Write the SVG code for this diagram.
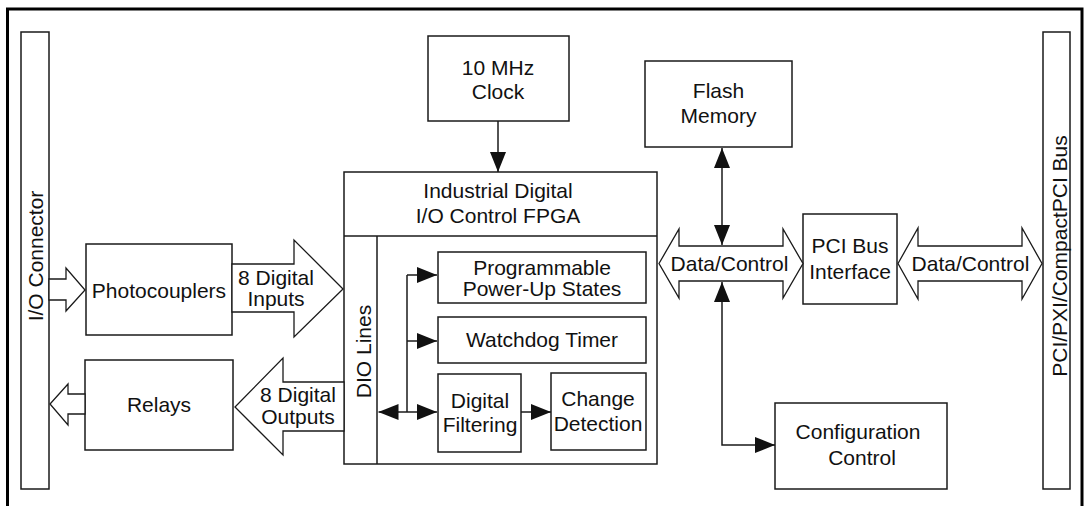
<svg xmlns="http://www.w3.org/2000/svg" width="1086" height="506" viewBox="0 0 1086 506">
<style>
text{font-family:"Liberation Sans",Arial,sans-serif;font-size:21px;fill:#111;text-anchor:middle}
.box{fill:#fff;stroke:#1a1a1a;stroke-width:1.5}
.hol{fill:#fff;stroke:#1a1a1a;stroke-width:1.3;stroke-linejoin:miter}
.ln{fill:none;stroke:#1a1a1a;stroke-width:1.5}
.ar{fill:none;stroke:#1a1a1a;stroke-width:1.5;marker-end:url(#ah)}
.ar2{fill:none;stroke:#1a1a1a;stroke-width:1.5;marker-start:url(#ah);marker-end:url(#ah)}
</style>
<defs>
<marker id="ah" markerUnits="userSpaceOnUse" markerWidth="20" markerHeight="16" viewBox="0 0 20 16" refX="20" refY="8" orient="auto-start-reverse">
<path d="M0,0 L20,8 L0,16 z" fill="#111"/>
</marker>
</defs>
<rect width="1086" height="506" fill="#fff"/>
<rect x="7.5" y="9" width="1074.5" height="510" fill="none" stroke="#000" stroke-width="3"/>

<g id="io-connector">
<rect class="box" x="21" y="32" width="28" height="457"/>
<text transform="translate(42.5,256) rotate(-90)">I/O Connector</text>
</g>
<g id="pci-bus">
<rect class="box" x="1043" y="32" width="27" height="457"/>
<text transform="translate(1066.5,256) rotate(-90)">PCI/PXI/CompactPCI Bus</text>
</g>
<g id="photocouplers">
<rect class="box" x="86" y="244" width="146" height="91"/>
<text x="159" y="298">Photocouplers</text>
</g>
<g id="relays">
<rect class="box" x="85" y="360" width="148" height="90"/>
<text x="159" y="412">Relays</text>
</g>
<g id="clock">
<rect class="box" x="428" y="36" width="141" height="85"/>
<text x="498" y="75">10 MHz</text>
<text x="498" y="99">Clock</text>
</g>
<g id="fpga">
<rect class="box" x="344" y="172" width="313" height="292"/>
<line class="ln" x1="344" y1="236" x2="657" y2="236"/>
<text x="498" y="198">Industrial Digital</text>
<text x="498" y="223">I/O Control FPGA</text>
</g>
<g id="dio-lines">
<line class="ln" x1="377" y1="236" x2="377" y2="464"/>
<text transform="translate(370.5,351.5) rotate(-90)">DIO Lines</text>
</g>
<g id="power-up">
<rect class="box" x="438" y="252" width="208" height="51"/>
<text x="542" y="275">Programmable</text>
<text x="542" y="296">Power-Up States</text>
</g>
<g id="watchdog">
<rect class="box" x="438" y="317" width="208" height="46"/>
<text x="542" y="347">Watchdog Timer</text>
</g>
<g id="filtering">
<rect class="box" x="438" y="374" width="83" height="78"/>
<text x="480" y="408">Digital</text>
<text x="480" y="432">Filtering</text>
</g>
<g id="change">
<rect class="box" x="551" y="373" width="95" height="77"/>
<text x="598" y="406">Change</text>
<text x="598" y="431">Detection</text>
</g>
<g id="flash">
<rect class="box" x="645" y="61" width="147" height="86"/>
<text x="718.5" y="98">Flash</text>
<text x="718.5" y="123">Memory</text>
</g>
<g id="pci-interface">
<rect class="box" x="803" y="214" width="94" height="90"/>
<text x="850" y="253">PCI Bus</text>
<text x="850" y="279">Interface</text>
</g>
<g id="config">
<rect class="box" x="775" y="403" width="172" height="86"/>
<text x="858" y="439">Configuration</text>
<text x="862" y="465">Control</text>
</g>

<g id="connectors">
<polygon class="hol" points="49,279 66,279 66,268 85,290 66,311 66,300 49,300"/>
<polygon class="hol" points="232,264 294,264 294,240 343,289 294,337 294,312 232,312"/>
<text x="276" y="285">8 Digital</text>
<text x="276" y="306">Inputs</text>
<polygon class="hol" points="85,394 68,394 68,384 50,404 68,425 68,414 85,414"/>
<polygon class="hol" points="344,382 283,382 283,358 235,407 283,455 283,431 344,431"/>
<text x="298" y="402">8 Digital</text>
<text x="298" y="424">Outputs</text>
<polygon class="hol" points="659,263.5 679,229 679,246 783,246 783,229 803,263.5 783,298 783,281 679,281 679,298"/>
<text x="729.5" y="271">Data/Control</text>
<polygon class="hol" points="898,263.5 918,228 918,246 1022,246 1022,228 1042,263.5 1022,299 1022,281 918,281 918,299"/>
<text x="970.5" y="271">Data/Control</text>
<path class="ar" d="M498,121 V172"/>
<path class="ar2" d="M722,148 V245"/>
<path class="ar2" d="M722,282 V445 H775"/>
<path class="ln" d="M407,275 V412"/>
<path class="ar" d="M407,275 H437"/>
<path class="ar" d="M407,341 H437"/>
<path class="ar2" d="M378.5,412 H437"/>
<path class="ar" d="M521,412 H551"/>
</g>
</svg>
